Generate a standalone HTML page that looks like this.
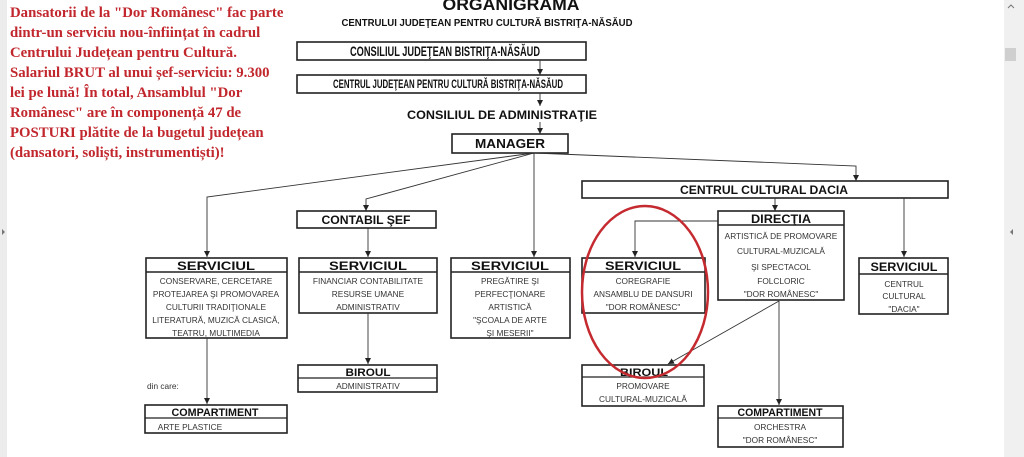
<!DOCTYPE html>
<html><head><meta charset="utf-8"><style>
html,body{margin:0;padding:0;background:#fff;width:1024px;height:457px;overflow:hidden}
svg{display:block}
.h{font-family:"Liberation Sans",sans-serif;font-weight:bold;fill:#111;text-anchor:middle}
.b{font-family:"Liberation Sans",sans-serif;fill:#333;text-anchor:middle;font-size:8.3px}
.r{font-family:"Liberation Serif",serif;font-weight:bold;fill:#c1272d;font-size:14.8px}
rect.bx{fill:#fff;stroke:#222;stroke-width:1.6}
line,polyline{stroke:#333;stroke-width:0.9;fill:none}
</style></head><body>
<svg width="1024" height="457" viewBox="0 0 1024 457">
<defs>
<marker id="m" markerWidth="8" markerHeight="8" refX="6" refY="3" orient="auto" markerUnits="userSpaceOnUse"><path d="M0,0 L6,3 L0,6 Z" fill="#222"/></marker></defs>
<rect x="0" y="0" width="7" height="457" fill="#ececec"/>
<path d="M2,229 l3,3 l-3,3z" fill="#777"/>
<rect x="1004" y="0" width="20" height="457" fill="#f0f0f0"/>
<rect x="1005" y="48" width="11" height="13" fill="#cfcfcf"/>
<path d="M1008,8 l3,-3 l3,3" stroke="#777" fill="none"/>
<path d="M1013,229 l-3,3 l3,3z" fill="#777"/>

<text class="r"><tspan x="10" y="17">Dansatorii de la "Dor Românesc" fac parte</tspan><tspan x="10" y="37">dintr-un serviciu nou-înființat în cadrul</tspan><tspan x="10" y="57">Centrului Județean pentru Cultură.</tspan><tspan x="10" y="77">Salariul BRUT al unui șef-serviciu: 9.300</tspan><tspan x="10" y="97">lei pe lună! În total, Ansamblul "Dor</tspan><tspan x="10" y="117">Românesc" are în componență 47 de</tspan><tspan x="10" y="137">POSTURI  plătite de la bugetul județean</tspan><tspan x="10" y="157">(dansatori, soliști, instrumentiști)!</tspan></text>

<text class="h" x="511" y="10" font-size="17" textLength="137" lengthAdjust="spacingAndGlyphs">ORGANIGRAMA</text>
<text class="h" x="487" y="26" font-size="10" textLength="291" lengthAdjust="spacingAndGlyphs">CENTRULUI JUDEŢEAN PENTRU CULTURĂ BISTRIŢA-NĂSĂUD</text>

<rect class="bx" x="297" y="42" width="289" height="18"/>
<text class="h" x="445" y="56" font-size="13.5" textLength="190" lengthAdjust="spacingAndGlyphs">CONSILIUL JUDEŢEAN BISTRIŢA-NĂSĂUD</text>
<line x1="540" y1="60" x2="540" y2="75" marker-end="url(#m)"/>
<rect class="bx" x="297" y="75" width="289" height="18"/>
<text class="h" x="448" y="88" font-size="12" textLength="230" lengthAdjust="spacingAndGlyphs">CENTRUL JUDEŢEAN PENTRU CULTURĂ BISTRIŢA-NĂSĂUD</text>
<line x1="540" y1="93" x2="540" y2="106" marker-end="url(#m)"/>
<text class="h" x="502" y="119" font-size="12" textLength="190" lengthAdjust="spacingAndGlyphs">CONSILIUL DE ADMINISTRAŢIE</text>
<line x1="540" y1="122" x2="540" y2="134" marker-end="url(#m)"/>
<rect class="bx" x="452" y="134" width="116" height="19"/>
<text class="h" x="510" y="148" font-size="13" textLength="70" lengthAdjust="spacingAndGlyphs">MANAGER</text>

<polyline points="534,153 207,197 207,257" marker-end="url(#m)"/>
<polyline points="534,153 366,199 366,211" marker-end="url(#m)"/>
<line x1="534" y1="153" x2="534" y2="257" marker-end="url(#m)"/>
<polyline points="534,153 856,166 856,181" marker-end="url(#m)"/>

<rect class="bx" x="297" y="211" width="139" height="17"/>
<text class="h" x="366" y="224" font-size="12" textLength="89" lengthAdjust="spacingAndGlyphs">CONTABIL ŞEF</text>
<line x1="368" y1="228" x2="368" y2="257" marker-end="url(#m)"/>

<rect class="bx" x="582" y="181" width="366" height="17"/>
<text class="h" x="764" y="194" font-size="12" textLength="168" lengthAdjust="spacingAndGlyphs">CENTRUL CULTURAL DACIA</text>
<line x1="775" y1="198" x2="775" y2="211" marker-end="url(#m)"/>
<line x1="904" y1="198" x2="904" y2="257" marker-end="url(#m)"/>

<rect class="bx" x="146" y="258" width="141" height="80"/><line x1="146" y1="272" x2="287" y2="272" style="stroke:#222;stroke-width:1.4"/>
<text class="h" x="216" y="270" font-size="12" textLength="78" lengthAdjust="spacingAndGlyphs">SERVICIUL</text>
<text class="b"><tspan x="216" y="284">CONSERVARE, CERCETARE</tspan><tspan x="216" y="297">PROTEJAREA ŞI PROMOVAREA</tspan><tspan x="216" y="310">CULTURII TRADIŢIONALE</tspan><tspan x="216" y="323">LITERATURĂ, MUZICĂ CLASICĂ,</tspan><tspan x="216" y="336">TEATRU, MULTIMEDIA</tspan></text>

<rect class="bx" x="299" y="258" width="138" height="55"/><line x1="299" y1="272" x2="437" y2="272" style="stroke:#222;stroke-width:1.4"/>
<text class="h" x="368" y="270" font-size="12" textLength="78" lengthAdjust="spacingAndGlyphs">SERVICIUL</text>
<text class="b"><tspan x="368" y="284">FINANCIAR CONTABILITATE</tspan><tspan x="368" y="297">RESURSE UMANE</tspan><tspan x="368" y="310">ADMINISTRATIV</tspan></text>

<rect class="bx" x="451" y="258" width="119" height="80"/><line x1="451" y1="272" x2="570" y2="272" style="stroke:#222;stroke-width:1.4"/>
<text class="h" x="510" y="270" font-size="12" textLength="78" lengthAdjust="spacingAndGlyphs">SERVICIUL</text>
<text class="b"><tspan x="510" y="284">PREGĂTIRE ŞI</tspan><tspan x="510" y="297">PERFECŢIONARE</tspan><tspan x="510" y="310">ARTISTICĂ</tspan><tspan x="510" y="323">"ŞCOALA DE ARTE</tspan><tspan x="510" y="336">ŞI MESERII"</tspan></text>

<rect class="bx" x="582" y="258" width="123" height="55"/><line x1="582" y1="272" x2="705" y2="272" style="stroke:#222;stroke-width:1.4"/>
<text class="h" x="643" y="270" font-size="12" textLength="76" lengthAdjust="spacingAndGlyphs">SERVICIUL</text>
<text class="b"><tspan x="643" y="284">COREGRAFIE</tspan><tspan x="643" y="297">ANSAMBLU DE DANSURI</tspan><tspan x="643" y="310">"DOR ROMÂNESC"</tspan></text>

<rect class="bx" x="718" y="211" width="126" height="89"/><line x1="718" y1="225" x2="844" y2="225" style="stroke:#222;stroke-width:1.4"/>
<text class="h" x="781" y="223" font-size="12" textLength="60" lengthAdjust="spacingAndGlyphs">DIRECŢIA</text>
<text class="b"><tspan x="781" y="239">ARTISTICĂ DE PROMOVARE</tspan><tspan x="781" y="254">CULTURAL-MUZICALĂ</tspan><tspan x="781" y="270">ŞI SPECTACOL</tspan><tspan x="781" y="284">FOLCLORIC</tspan><tspan x="781" y="297">"DOR ROMÂNESC"</tspan></text>

<rect class="bx" x="859" y="258" width="89" height="56"/><line x1="859" y1="274" x2="948" y2="274" style="stroke:#222;stroke-width:1.4"/>
<text class="h" x="904" y="271" font-size="12" textLength="67" lengthAdjust="spacingAndGlyphs">SERVICIUL</text>
<text class="b"><tspan x="904" y="287">CENTRUL</tspan><tspan x="904" y="299">CULTURAL</tspan><tspan x="904" y="312">"DACIA"</tspan></text>

<polyline points="718,221 635,221 635,257" marker-end="url(#m)"/>
<line x1="779" y1="301" x2="668" y2="364" marker-end="url(#m)"/>
<line x1="779" y1="301" x2="779" y2="405" marker-end="url(#m)"/>
<line x1="368" y1="313" x2="368" y2="364" marker-end="url(#m)"/>
<line x1="207" y1="338" x2="207" y2="404" marker-end="url(#m)"/>

<rect class="bx" x="298" y="365" width="139" height="27"/><line x1="298" y1="378" x2="437" y2="378" style="stroke:#222;stroke-width:1.2"/>
<text class="h" x="368" y="376" font-size="11" textLength="45" lengthAdjust="spacingAndGlyphs">BIROUL</text>
<text class="b" x="368" y="389">ADMINISTRATIV</text>

<text x="147" y="389" font-family="Liberation Sans,sans-serif" font-size="8.3" fill="#333">din care:</text>
<rect class="bx" x="145" y="405" width="142" height="28"/><line x1="145" y1="418" x2="287" y2="418" style="stroke:#222;stroke-width:1.2"/>
<text class="h" x="215" y="416" font-size="11" textLength="87" lengthAdjust="spacingAndGlyphs">COMPARTIMENT</text>
<text class="b" x="190" y="430">ARTE PLASTICE</text>

<rect class="bx" x="582" y="365" width="122" height="41"/><line x1="582" y1="377" x2="704" y2="377" style="stroke:#222;stroke-width:1.2"/>
<text class="h" x="644" y="376" font-size="11" textLength="48" lengthAdjust="spacingAndGlyphs">BIROUL</text>
<text class="b"><tspan x="643" y="389">PROMOVARE</tspan><tspan x="643" y="402">CULTURAL-MUZICALĂ</tspan></text>

<rect class="bx" x="718" y="406" width="125" height="41"/><line x1="718" y1="418" x2="843" y2="418" style="stroke:#222;stroke-width:1.2"/>
<text class="h" x="780" y="416" font-size="11" textLength="85" lengthAdjust="spacingAndGlyphs">COMPARTIMENT</text>
<text class="b"><tspan x="780" y="430">ORCHESTRA</tspan><tspan x="780" y="443">"DOR ROMÂNESC"</tspan></text>

<ellipse cx="645" cy="292" rx="63" ry="86" fill="none" stroke="#c42a2f" stroke-width="2.5"/>
</svg>
</body></html>
